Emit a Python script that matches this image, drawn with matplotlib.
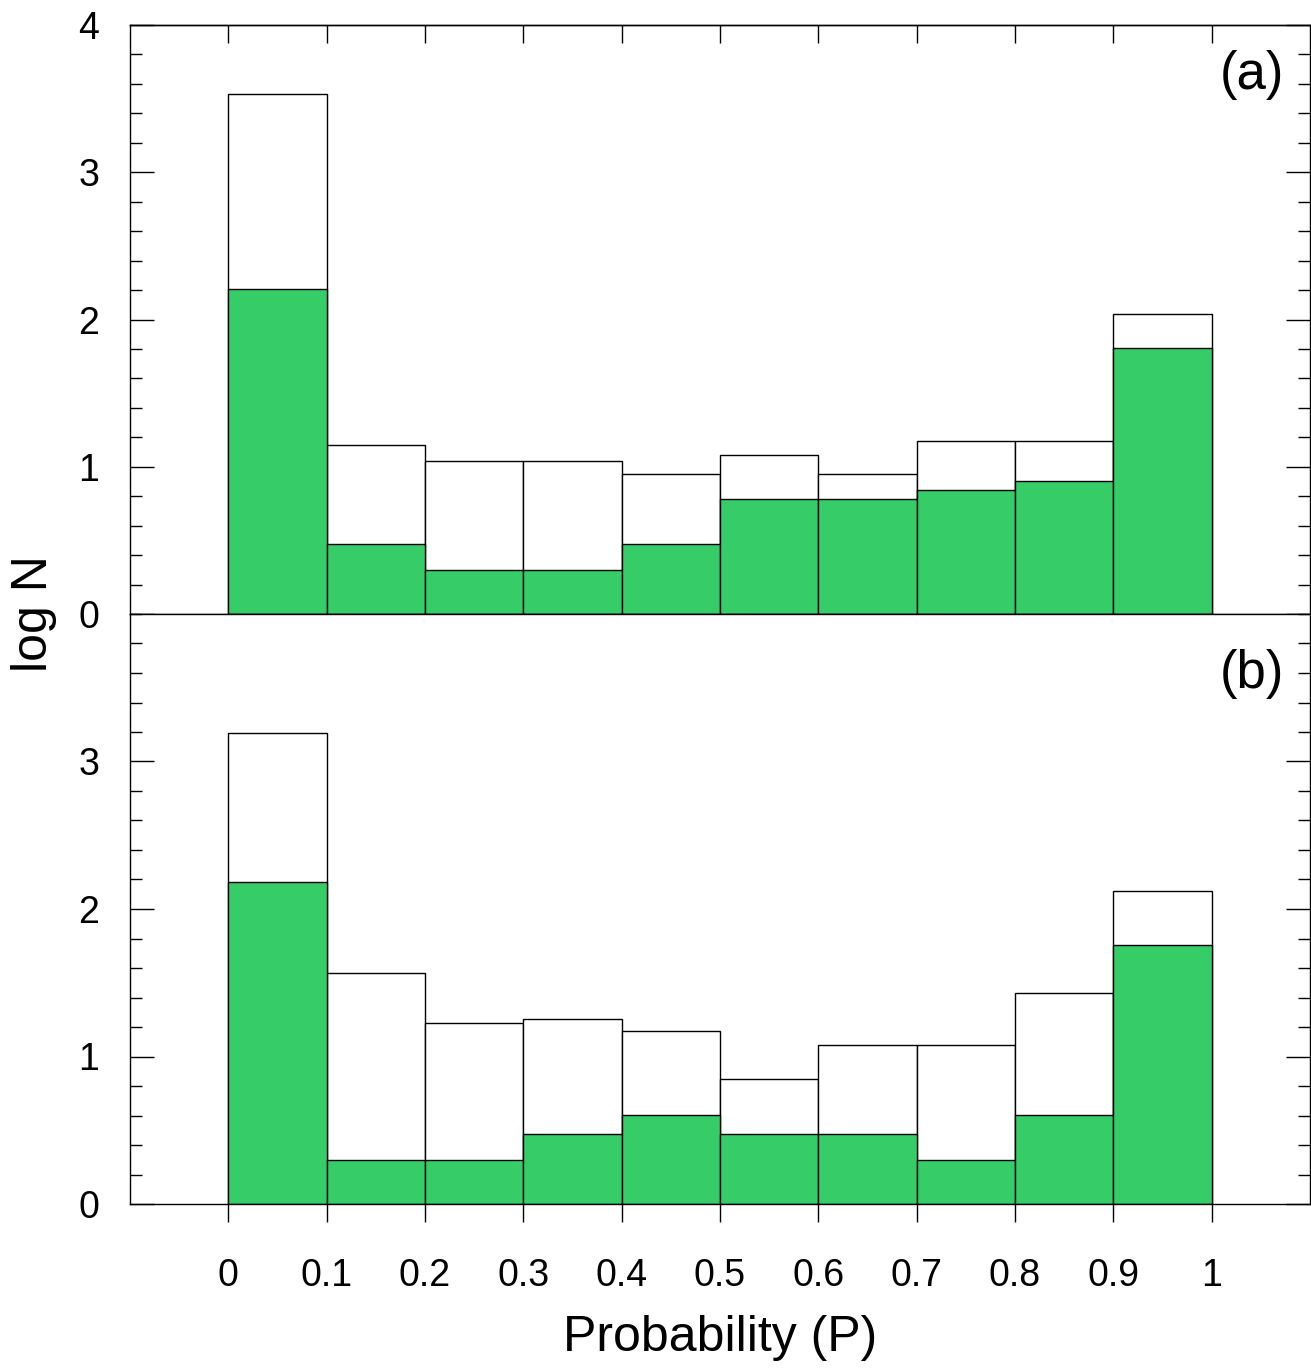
import matplotlib
matplotlib.use("Agg")
import matplotlib.pyplot as plt
from matplotlib.ticker import MultipleLocator

plt.rcParams['font.family'] = ['Liberation Sans', 'DejaVu Sans']

# bin left edges of probability P
bins = [0.0, 0.1, 0.2, 0.3, 0.4, 0.5, 0.6, 0.7, 0.8, 0.9]
xtick_labels = ['0', '0.1', '0.2', '0.3', '0.4', '0.5', '0.6', '0.7', '0.8', '0.9', '1']

# panel (a): log N, all sources (white) and subset (green)
a_total = [3.53, 1.146, 1.041, 1.041, 0.954, 1.079, 0.954, 1.176, 1.176, 2.04]
a_green = [2.207, 0.477, 0.301, 0.301, 0.477, 0.778, 0.778, 0.845, 0.903, 1.806]

# panel (b)
b_total = [3.19, 1.568, 1.23, 1.255, 1.176, 0.845, 1.079, 1.079, 1.431, 2.121]
b_green = [2.185, 0.301, 0.301, 0.477, 0.602, 0.477, 0.477, 0.301, 0.602, 1.756]

green = '#36cc68'
W, H = 1311, 1369
fig = plt.figure(figsize=(W / 100, H / 100), dpi=100)

left = 130 / W
width = (1310 - 130) / W
ax_a = fig.add_axes([left, 1 - 614 / H, width, (614 - 25) / H])
ax_b = fig.add_axes([left, 1 - 1204 / H, width, (1204 - 614) / H])

xticks = bins + [1.0]

for ax, tot, grn, tag, ty in [(ax_a, a_total, a_green, '(a)', 0.915),
                              (ax_b, b_total, b_green, '(b)', 0.898)]:
    ax.bar(bins, tot, width=0.1, align='edge', color='white', edgecolor='black', linewidth=1.0)
    ax.bar(bins, grn, width=0.1, align='edge', color=green, edgecolor='black', linewidth=1.0)
    ax.set_xlim(-0.1, 1.1)
    ax.set_ylim(0, 4)
    ax.yaxis.set_major_locator(MultipleLocator(1))
    ax.yaxis.set_minor_locator(MultipleLocator(0.2))
    ax.tick_params(axis='y', which='both', direction='in', left=True, right=True,
                   labelsize=27, pad=22)
    ax.tick_params(axis='y', which='major', length=17, width=1.0)
    ax.tick_params(axis='y', which='minor', length=8.5, width=1.0)
    ax.set_xticks(xticks)
    ax.tick_params(axis='x', which='major', direction='out', bottom=True, top=False,
                   length=13, width=1.0, labelsize=27, pad=26)
    for s in ax.spines.values():
        s.set_linewidth(1.0)
    ax.text(0.978, ty, tag, transform=ax.transAxes, ha='right', va='center', fontsize=38)

# panel (a): inward ticks along the top edge
sec = ax_a.secondary_xaxis('top')
sec.set_xticks(xticks)
sec.tick_params(direction='in', length=13, width=1.0, labeltop=False)
sec.spines['top'].set_linewidth(1.0)

ax_a.tick_params(axis='x', labelbottom=False)
ax_a.set_yticks([0, 1, 2, 3, 4])
ax_b.set_yticks([0, 1, 2, 3])
ax_b.set_xticklabels(xtick_labels)

ax_b.set_xlabel('Probability (P)', fontsize=36, labelpad=15)
fig.text(0.026, 1 - 614 / H, 'log N', rotation=90, fontsize=36,
         ha='center', va='center')

fig.savefig('out.png', dpi=100)
